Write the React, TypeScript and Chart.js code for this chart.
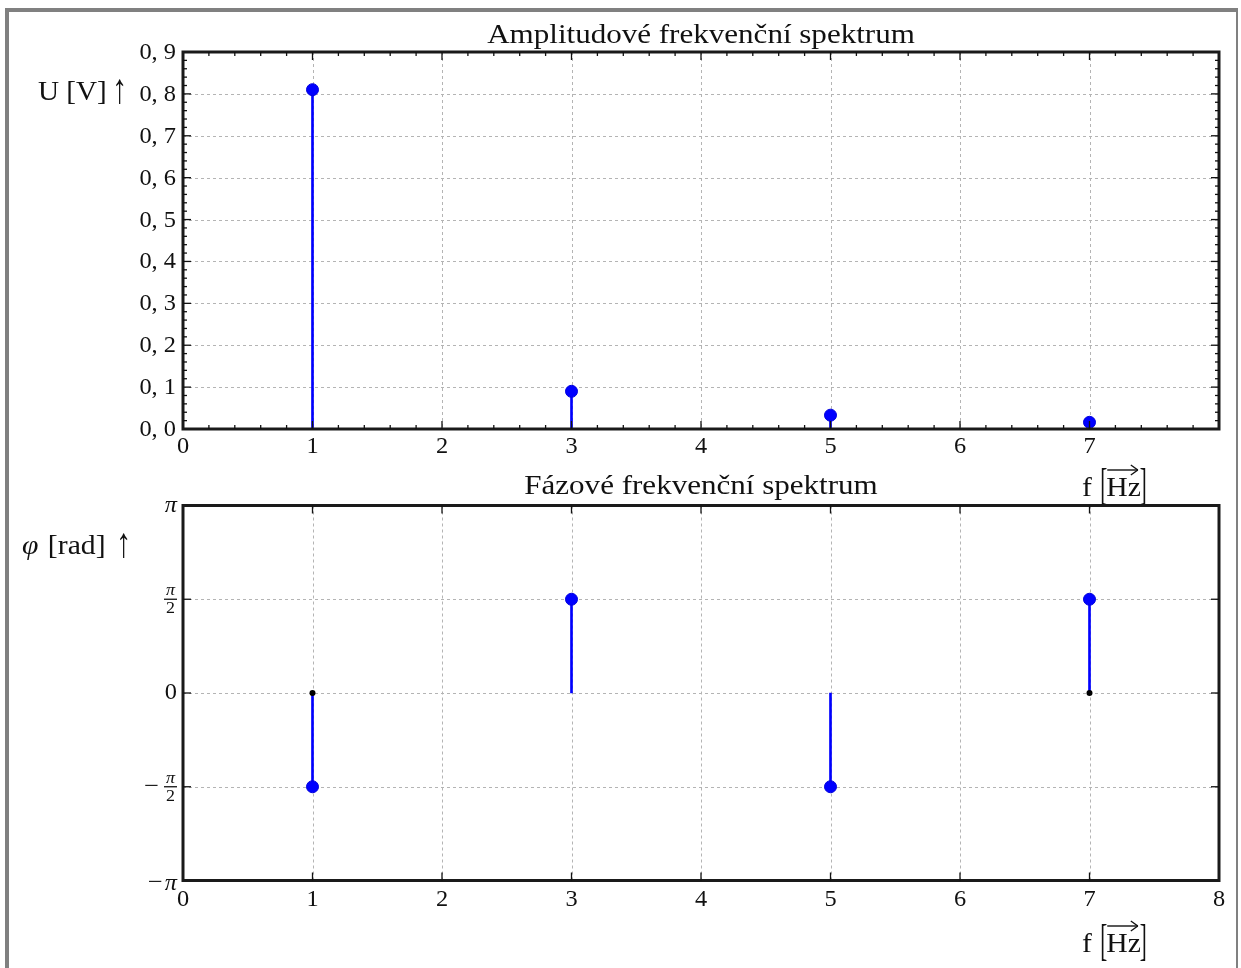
import React, { useEffect, useRef } from 'react';
import { Chart, registerables } from 'chart.js';

Chart.register(...registerables);

// ---------- data ----------
const harmonics = [1, 3, 5, 7];
const amplitudes = [0.81, 0.09, 0.033, 0.016];
const phases = [-Math.PI / 2, Math.PI / 2, -Math.PI / 2, Math.PI / 2];
const phaseBaseDots = [1, 7];

// ---------- ticks ----------
const ampXTicks = [0, 1, 2, 3, 4, 5, 6, 7, 8];
const ampXLabels = ['0', '1', '2', '3', '4', '5', '6', '7', ''];
const ampYTicks = [0, 0.1, 0.2, 0.3, 0.4, 0.5, 0.6, 0.7, 0.8, 0.9];
const ampYLabels = ['0, 0', '0, 1', '0, 2', '0, 3', '0, 4', '0, 5', '0, 6', '0, 7', '0, 8', '0, 9'];
const ampXMinorStep = 0.2;
const ampYMinorStep = 0.02;
const phaseXTicks = [0, 1, 2, 3, 4, 5, 6, 7, 8];
const phaseXLabels = ['0', '1', '2', '3', '4', '5', '6', '7', '8'];
const phaseYTicks = [-Math.PI, -Math.PI / 2, 0, Math.PI / 2, Math.PI];
const phaseYLabels = ['-pi', '-pi/2', '0', 'pi/2', 'pi'];

const ampTitle = 'Amplitudové frekvenční spektrum';
const phaseTitle = 'Fázové frekvenční spektrum';

const FONT = '"Liberation Serif", "Times New Roman", serif';
const SX = 1.06;
const TICK = 23;

type TOpt = { align?: CanvasTextAlign; baseline?: CanvasTextBaseline; italic?: boolean; sx?: number; sy?: number; font?: string };

function drawText(ctx: CanvasRenderingContext2D, s: string, x: number, y: number, size: number, o: TOpt = {}) {
  ctx.save();
  ctx.font = `${o.italic ? 'italic ' : ''}${size}px ${o.font || FONT}`;
  ctx.fillStyle = '#111';
  ctx.textAlign = o.align || 'left';
  ctx.textBaseline = o.baseline || 'alphabetic';
  ctx.translate(x, y);
  ctx.scale(o.sx ?? SX, o.sy ?? 1);
  ctx.fillText(s, 0, 0);
  ctx.restore();
}

function tw(ctx: CanvasRenderingContext2D, s: string, size: number, italic = false, sx = SX) {
  ctx.save();
  ctx.font = `${italic ? 'italic ' : ''}${size}px ${FONT}`;
  const w = ctx.measureText(s).width * sx;
  ctx.restore();
  return w;
}

function line(ctx: CanvasRenderingContext2D, x1: number, y1: number, x2: number, y2: number) {
  ctx.beginPath();
  ctx.moveTo(x1, y1);
  ctx.lineTo(x2, y2);
  ctx.stroke();
}

function drawGrid(chart: any, xs: number[], ys: number[]) {
  const ctx = chart.ctx as CanvasRenderingContext2D;
  const { left, right, top, bottom } = chart.chartArea;
  ctx.save();
  ctx.strokeStyle = '#b4b4b4';
  ctx.lineWidth = 1;
  ctx.setLineDash([3, 3]);
  xs.forEach((v) => {
    const px = Math.round(chart.scales.x.getPixelForValue(v)) + 0.5;
    if (px <= left + 2 || px >= right - 2) return;
    line(ctx, px, top, px, bottom);
  });
  ys.forEach((v) => {
    const py = Math.round(chart.scales.y.getPixelForValue(v)) + 0.5;
    if (py <= top + 2 || py >= bottom - 2) return;
    line(ctx, left, py, right, py);
  });
  ctx.restore();
}

function drawTicks(chart: any, values: number[], axis: 'x' | 'y', len: number) {
  const ctx = chart.ctx as CanvasRenderingContext2D;
  const { left, right, top, bottom } = chart.chartArea;
  ctx.save();
  ctx.strokeStyle = '#111';
  ctx.lineWidth = 1.3;
  values.forEach((v) => {
    if (axis === 'x') {
      const px = chart.scales.x.getPixelForValue(v);
      if (px <= left + 1 || px >= right - 1) return;
      line(ctx, px, bottom, px, bottom - len);
      line(ctx, px, top, px, top + len);
    } else {
      const py = chart.scales.y.getPixelForValue(v);
      if (py <= top + 1 || py >= bottom - 1) return;
      line(ctx, left, py, left + len, py);
      line(ctx, right, py, right - len, py);
    }
  });
  ctx.restore();
}

function drawFrame(chart: any) {
  const ctx = chart.ctx as CanvasRenderingContext2D;
  const { left, right, top, bottom } = chart.chartArea;
  ctx.save();
  ctx.strokeStyle = '#1a1a1a';
  ctx.lineWidth = 3;
  ctx.strokeRect(left, top, right - left, bottom - top);
  ctx.restore();
}

function minorValues(min: number, max: number, step: number, majors: number[]) {
  const out: number[] = [];
  const n = Math.round((max - min) / step);
  for (let i = 0; i <= n; i++) {
    const v = min + i * step;
    if (!majors.some((m) => Math.abs(m - v) < step / 10)) out.push(v);
  }
  return out;
}

function drawFreqLabel(ctx: CanvasRenderingContext2D, x0: number, base: number) {
  const size = 28;
  let x = x0;
  drawText(ctx, 'f', x, base, size);
  x += tw(ctx, 'f', size) + tw(ctx, ' ', size) + 1;
  drawText(ctx, '[', x, base + 3, size, { sy: 1.55, sx: 0.75 });
  x += tw(ctx, '[', size) * 0.6;
  const hz0 = x;
  drawText(ctx, 'Hz', x, base, size);
  x += tw(ctx, 'Hz', size);
  const hz1 = x;
  drawText(ctx, ']', x - 1, base + 3, size, { sy: 1.55, sx: 0.75 });
  const ay = base - 26;
  ctx.save();
  ctx.strokeStyle = '#111';
  ctx.lineWidth = 1.4;
  line(ctx, hz0 + 1, ay, hz1 - 3, ay);
  line(ctx, hz1 - 10, ay - 5, hz1 - 3, ay);
  line(ctx, hz1 - 10, ay + 5, hz1 - 3, ay);
  ctx.restore();
}

function drawUpArrow(ctx: CanvasRenderingContext2D, x: number, base: number) {
  drawText(ctx, '↑', x, base + 3, 30, { sx: 1.0, sy: 1.4 });
}

function drawPiLabel(ctx: CanvasRenderingContext2D, kind: string, R: number, y: number) {
  const big = 23;
  const small = 17;
  const frac = (rx: number) => {
    const w = 13;
    const cx = rx - w / 2;
    drawText(ctx, 'π', cx, y - 4, small, { italic: true, align: 'center' });
    drawText(ctx, '2', cx, y + 14, small, { align: 'center' });
    ctx.save();
    ctx.strokeStyle = '#111';
    ctx.lineWidth = 1.3;
    line(ctx, rx - w, y, rx, y);
    ctx.restore();
  };
  if (kind === 'pi') {
    drawText(ctx, 'π', R, y, big, { italic: true, align: 'right', baseline: 'middle' });
  } else if (kind === '-pi') {
    const w = tw(ctx, 'π', big, true);
    drawText(ctx, 'π', R, y + 3, big, { italic: true, align: 'right', baseline: 'middle' });
    drawText(ctx, '−', R - w - 2, y + 2, big, { align: 'right', baseline: 'middle', sx: 1.15 });
  } else if (kind === 'pi/2') {
    frac(R);
  } else if (kind === '-pi/2') {
    frac(R);
    drawText(ctx, '−', R - 18, y, big, { align: 'right', baseline: 'middle', sx: 1.15 });
  } else {
    drawText(ctx, kind, R, y, big, { align: 'right', baseline: 'middle' });
  }
}

const ampPlugin = {
  id: 'ampDecor',
  beforeDatasetsDraw(chart: any) {
    drawGrid(chart, ampXTicks, ampYTicks);
  },
  afterDatasetsDraw(chart: any) {
    const ctx = chart.ctx as CanvasRenderingContext2D;
    const { left, right, bottom } = chart.chartArea;
    drawFrame(chart);
    drawTicks(chart, ampXTicks, 'x', 8);
    drawTicks(chart, ampYTicks, 'y', 8);
    drawTicks(chart, minorValues(0, 8, ampXMinorStep, ampXTicks), 'x', 4);
    drawTicks(chart, minorValues(0, 0.9, ampYMinorStep, ampYTicks), 'y', 4);
    ampYTicks.forEach((v, i) => {
      drawText(ctx, ampYLabels[i], left - 7, chart.scales.y.getPixelForValue(v) + 1, TICK, { align: 'right', baseline: 'middle' });
    });
    ampXTicks.forEach((v, i) => {
      if (!ampXLabels[i]) return;
      drawText(ctx, ampXLabels[i], chart.scales.x.getPixelForValue(v), bottom + 18, TICK, { align: 'center', baseline: 'middle' });
    });
    drawText(ctx, ampTitle, (left + right) / 2, 43, 27, { align: 'center', sx: 1.15 });
    drawText(ctx, 'U [V]', 38, 100, 27, { sx: 1.08 });
    drawUpArrow(ctx, 112, 100);
    drawFreqLabel(ctx, 1082, 496);
  },
};

const OFF = 470;
const phasePlugin = {
  id: 'phaseDecor',
  beforeDatasetsDraw(chart: any) {
    drawGrid(chart, phaseXTicks, phaseYTicks);
  },
  afterDatasetsDraw(chart: any) {
    const ctx = chart.ctx as CanvasRenderingContext2D;
    const { left, right, bottom } = chart.chartArea;
    drawFrame(chart);
    drawTicks(chart, phaseXTicks, 'x', 8);
    drawTicks(chart, phaseYTicks, 'y', 8);
    phaseYTicks.forEach((v, i) => {
      drawPiLabel(ctx, phaseYLabels[i], left - 6, chart.scales.y.getPixelForValue(v));
    });
    phaseXTicks.forEach((v, i) => {
      drawText(ctx, phaseXLabels[i], chart.scales.x.getPixelForValue(v), bottom + 19, TICK, { align: 'center', baseline: 'middle' });
    });
    drawText(ctx, phaseTitle, (left + right) / 2, 494 - OFF, 27, { align: 'center', sx: 1.15 });
    drawText(ctx, 'φ', 22, 554 - OFF, 27, { italic: true, sx: 1.1 });
    drawText(ctx, '[rad]', 22 + tw(ctx, 'φ ', 27, true, 1.1) + 2, 554 - OFF, 27, { sx: 1.1 });
    drawUpArrow(ctx, 116, 554 - OFF);
    drawFreqLabel(ctx, 1082, 952 - OFF);
  },
};

function baseOptions(pad: any, ymin: number, ymax: number) {
  return {
    responsive: false,
    animation: false as const,
    devicePixelRatio: 1,
    layout: { padding: pad },
    plugins: { legend: { display: false }, tooltip: { enabled: false }, title: { display: false } },
    scales: {
      x: { type: 'linear' as const, min: 0, max: 8, display: false, offset: false, grid: { display: false } },
      y: { type: 'linear' as const, min: ymin, max: ymax, display: false, grid: { display: false } },
    },
  };
}

export default function App() {
  const topRef = useRef<HTMLCanvasElement>(null);
  const botRef = useRef<HTMLCanvasElement>(null);

  useEffect(() => {
    const ampPts = harmonics.map((x, i) => ({ x, y: amplitudes[i] }));
    const phPts = harmonics.map((x, i) => ({ x, y: phases[i] }));
    const c1 = new Chart(topRef.current!, {
      type: 'scatter',
      data: {
        datasets: [
          { type: 'bar' as any, data: ampPts, backgroundColor: '#0000ff', borderWidth: 0, barThickness: 2, order: 2 } as any,
          { type: 'scatter', data: ampPts, pointRadius: 6, pointBackgroundColor: '#0000ff', pointBorderColor: '#0000dd', pointBorderWidth: 1, order: 1 } as any,
        ],
      },
      options: baseOptions({ left: 183, top: 52, right: 1241 - 1219, bottom: 510 - 429 }, 0, 0.9) as any,
      plugins: [ampPlugin],
    });
    const c2 = new Chart(botRef.current!, {
      type: 'scatter',
      data: {
        datasets: [
          { type: 'bar' as any, data: phPts, backgroundColor: '#0000ff', borderWidth: 0, barThickness: 2, order: 3 } as any,
          { type: 'scatter', data: phPts, pointRadius: 6, pointBackgroundColor: '#0000ff', pointBorderColor: '#0000dd', pointBorderWidth: 1, order: 2 } as any,
          { type: 'scatter', data: phaseBaseDots.map((x) => ({ x, y: 0 })), pointRadius: 3, pointBackgroundColor: '#000', pointBorderColor: '#000', pointBorderWidth: 0, order: 1 } as any,
        ],
      },
      options: baseOptions({ left: 183, top: 505.5 - OFF, right: 1241 - 1219, bottom: 498 - (880.5 - OFF) }, -Math.PI, Math.PI) as any,
      plugins: [phasePlugin],
    });
    return () => {
      c1.destroy();
      c2.destroy();
    };
  }, []);

  return (
    <div style={{ position: 'absolute', left: 0, top: 0, width: 1241, height: 968, overflow: 'hidden', background: '#fff' }}>
      <div
        style={{
          position: 'absolute',
          left: 5,
          top: 8,
          width: 1233,
          height: 960,
          boxSizing: 'border-box',
          borderTop: '4px solid #808080',
          borderLeft: '4px solid #808080',
          borderRight: '2px solid #808080',
        }}
      />
      <canvas ref={topRef} width={1241} height={510} style={{ position: 'absolute', left: 0, top: 0 }} />
      <canvas ref={botRef} width={1241} height={498} style={{ position: 'absolute', left: 0, top: OFF }} />
    </div>
  );
}
